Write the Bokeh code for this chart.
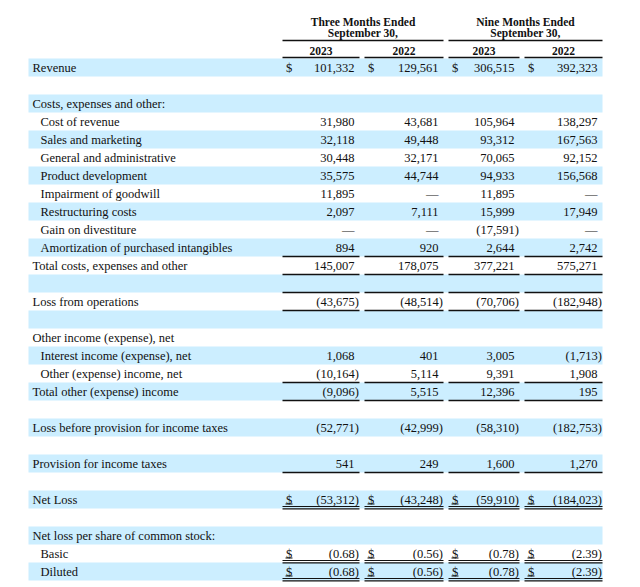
from bokeh.plotting import figure
from bokeh.models import Range1d
from bokeh.embed import file_html
from bokeh.resources import INLINE
from bokeh.core.properties import value

# ---------------- data ----------------
group_titles = ["Three Months Ended", "Nine Months Ended"]
group_subtitle = "September 30,"
years = ["2023", "2022", "2023", "2022"]

row_labels = [
    "Revenue", "", "Costs, expenses and other:", "Cost of revenue",
    "Sales and marketing", "General and administrative", "Product development",
    "Impairment of goodwill", "Restructuring costs", "Gain on divestiture",
    "Amortization of purchased intangibles", "Total costs, expenses and other", "",
    "Loss from operations", "", "Other income (expense), net",
    "Interest income (expense), net", "Other (expense) income, net",
    "Total other (expense) income", "", "Loss before provision for income taxes", "",
    "Provision for income taxes", "", "Net Loss", "",
    "Net loss per share of common stock:", "Basic", "Diluted",
]
row_indent = [0, 0, 0, 1, 1, 1, 1, 1, 1, 1, 1, 0, 0, 0, 0, 0, 1, 1, 0, 0, 0, 0,
              0, 0, 0, 0, 0, 1, 1]

q3_2023 = [101332, None, None, 31980, 32118, 30448, 35575, 11895, 2097, 0, 894,
           145007, None, -43675, None, None, 1068, -10164, -9096, None, -52771,
           None, 541, None, -53312, None, None, -0.68, -0.68]
q3_2022 = [129561, None, None, 43681, 49448, 32171, 44744, 0, 7111, 0, 920,
           178075, None, -48514, None, None, 401, 5114, 5515, None, -42999,
           None, 249, None, -43248, None, None, -0.56, -0.56]
nine_2023 = [306515, None, None, 105964, 93312, 70065, 94933, 11895, 15999, -17591,
             2644, 377221, None, -70706, None, None, 3005, 9391, 12396, None, -58310,
             None, 1600, None, -59910, None, None, -0.78, -0.78]
nine_2022 = [392323, None, None, 138297, 167563, 92152, 156568, 0, 17949, 0, 2742,
             575271, None, -182948, None, None, -1713, 1908, 195, None, -182753,
             None, 1270, None, -184023, None, None, -2.39, -2.39]
columns = [q3_2023, q3_2022, nine_2023, nine_2022]

dollar_rows = [0, 24, 27, 28]
per_share_rows = [27, 28]
single_rule_rows = [10, 11, 12, 13, 17, 18, 22]
double_rule_rows = [24, 27, 28]

# ---------------- layout ----------------
W, H = 640, 587
ROW0, PITCH = 67.0, 18.0
BAND_L, BAND_R = 28, 602
LABEL_X, INDENT = 32, 8
col_l = [282, 364, 448, 524]
col_r = [359, 443, 519, 602]
FONT = value("Liberation Serif")
BLUE = "#CCEEFF"
INK = "#111111"


def fmt(v, per_share):
    if v is None:
        return ""
    if v == 0:
        return "\u2014"
    s = f"{abs(v):.2f}" if per_share else f"{abs(v):,.0f}"
    return f"({s})" if v < 0 else s


p = figure(width=W, height=H, output_backend="svg", toolbar_location=None,
           x_range=Range1d(0, W), y_range=Range1d(H, 0),
           x_axis_type=None, y_axis_type=None, min_border=0)
p.grid.visible = False
p.outline_line_color = None
p.background_fill_color = "white"
p.border_fill_color = "white"

yc = [ROW0 + PITCH * i for i in range(len(row_labels))]

# bands
bi = [i for i in range(len(row_labels)) if i % 2 == 0]
p.quad(left=[BAND_L] * len(bi), right=[BAND_R] * len(bi),
       top=[yc[i] - PITCH / 2 for i in bi], bottom=[yc[i] + PITCH / 2 for i in bi],
       fill_color=BLUE, line_color=None)

TXT = dict(text_baseline="middle", text_font=FONT, text_color=INK)
HDR = dict(TXT, text_font_size="11.5px", text_font_style="bold", text_align="center")
BODY = dict(TXT, text_font_size="12.5px")

# header
gx = [(col_l[0] + col_r[1]) / 2, (col_l[2] + col_r[3]) / 2]
p.text(x=gx, y=[21, 21], text=group_titles, **HDR)
p.text(x=gx, y=[32, 32], text=[group_subtitle] * 2, **HDR)
p.segment(x0=[col_l[0], col_l[2]], y0=[40, 40], x1=[col_r[1], col_r[3]], y1=[40, 40],
          line_color=INK, line_width=1.6)
p.text(x=[(a + b) / 2 for a, b in zip(col_l, col_r)], y=[50.5] * 4, text=years, **HDR)
p.segment(x0=col_l, y0=[57] * 4, x1=col_r, y1=[57] * 4, line_color=INK, line_width=1.6)

# labels
p.text(x=[LABEL_X + INDENT * d for d in row_indent], y=yc, text=row_labels,
       text_align="left", **BODY)

# values
pos_x, pos_y, pos_t = [], [], []
neg_x, neg_y, neg_t = [], [], []
for c, vals in enumerate(columns):
    for i, v in enumerate(vals):
        s = fmt(v, i in per_share_rows)
        if not s:
            continue
        if v < 0:
            neg_x.append(col_r[c] - 0.5); neg_y.append(yc[i]); neg_t.append(s)
        else:
            pos_x.append(col_r[c] - 5); pos_y.append(yc[i]); pos_t.append(s)
for xs, ys, ts in ((pos_x, pos_y, pos_t), (neg_x, neg_y, neg_t)):
    p.text(x=xs, y=ys, text=ts, text_align="right", **BODY)

# dollar signs
dx = [col_l[c] + 3.5 for c in range(4) for i in dollar_rows]
dy = [yc[i] for c in range(4) for i in dollar_rows]
p.text(x=dx, y=dy, text=["$"] * len(dx), text_align="left", **BODY)
ux = [col_l[c] + 3 for c in range(4) for i in double_rule_rows]
uy = [yc[i] + 4.5 for c in range(4) for i in double_rule_rows]
p.segment(x0=ux, y0=uy, x1=[x + 7 for x in ux], y1=uy, line_color=INK, line_width=1)

# single rules
sx0 = [col_l[c] for c in range(4) for i in single_rule_rows]
sx1 = [col_r[c] for c in range(4) for i in single_rule_rows]
sy = [yc[i] + PITCH / 2 for c in range(4) for i in single_rule_rows]
p.segment(x0=sx0, y0=sy, x1=sx1, y1=sy, line_color=INK, line_width=1.4)

# double rules
for off in (7.0, 9.4):
    dx0 = [col_l[c] for c in range(4) for i in double_rule_rows]
    dx1 = [col_r[c] for c in range(4) for i in double_rule_rows]
    dyy = [yc[i] + off for c in range(4) for i in double_rule_rows]
    p.segment(x0=dx0, y0=dyy, x1=dx1, y1=dyy, line_color=INK, line_width=1.2)

open("out.html", "w").write(file_html(p, INLINE))
